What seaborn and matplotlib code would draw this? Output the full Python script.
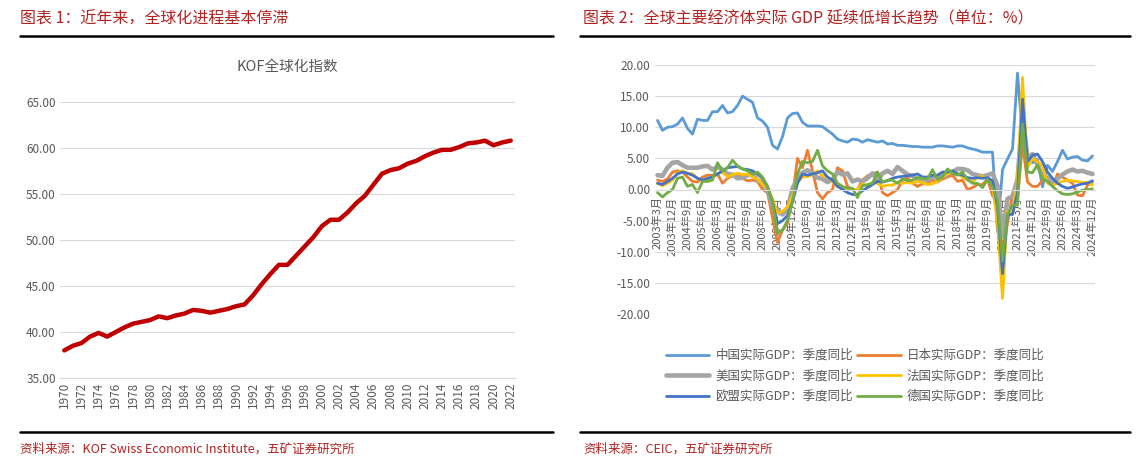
import matplotlib
matplotlib.use("Agg")
import matplotlib.pyplot as plt
import seaborn as sns
import numpy as np
import pandas as pd

sns.set_style("white")
plt.rcParams['font.family'] = ['Noto Sans CJK SC', 'DejaVu Sans']

years = list(range(1970, 2023))
kof = [38.0, 38.5, 38.8, 39.5, 39.9, 39.5, 40.0, 40.5, 40.9, 41.1,
       41.3, 41.7, 41.5, 41.8, 42.0, 42.4, 42.3, 42.1, 42.3, 42.5,
       42.8, 43.0, 44.0, 45.2, 46.3, 47.3, 47.3, 48.3, 49.3, 50.3,
       51.5, 52.2, 52.2, 53.0, 54.0, 54.8, 56.0, 57.2, 57.6, 57.8,
       58.3, 58.6, 59.1, 59.5, 59.8, 59.8, 60.1, 60.5, 60.6, 60.8,
       60.3, 60.6, 60.8]

quarters = [f"{y}年{m}月" for y in range(2003, 2025) for m in (3, 6, 9, 12)]
china = [11.1, 9.5, 10.0, 10.1, 10.5, 11.5, 9.8, 8.9, 11.3, 11.1, 11.1, 12.5,
         12.5, 13.5, 12.3, 12.5, 13.5, 15.0, 14.5, 14.0, 11.5, 11.0, 10.0, 7.1,
         6.5, 8.5, 11.5, 12.2, 12.3, 10.8, 10.2, 10.2, 10.2, 10.1, 9.5, 8.9,
         8.1, 7.8, 7.6, 8.1, 8.0, 7.6, 8.0, 7.8, 7.6, 7.8, 7.3, 7.4,
         7.1, 7.1, 7.0, 6.9, 6.9, 6.8, 6.8, 6.8, 7.0, 7.0, 6.9, 6.8,
         7.0, 7.0, 6.7, 6.5, 6.3, 6.0, 6.0, 6.0, -6.8, 3.2, 4.9, 6.5,
         18.7, 8.3, 5.2, 4.3, 4.8, 0.4, 3.9, 2.9, 4.5, 6.3, 4.9, 5.2,
         5.3, 4.7, 4.6, 5.4]
japan = [1.5, 1.3, 1.7, 2.8, 3.0, 2.8, 2.0, 1.3, 1.2, 2.0, 2.3, 2.3,
         2.5, 1.0, 1.8, 2.2, 2.5, 1.8, 1.4, 1.5, 1.3, 0.0, -0.5, -4.5,
         -8.5, -6.5, -5.5, -1.0, 5.0, 3.5, 6.3, 3.0, -0.5, -1.5, -0.5, 0.0,
         3.5, 3.0, 0.5, 0.0, 0.0, 1.5, 2.2, 2.5, 2.8, -0.5, -1.0, -0.5,
         0.0, 1.5, 1.9, 1.0, 0.5, 0.9, 1.0, 1.5, 1.2, 1.7, 2.0, 2.3,
         1.3, 1.5, 0.0, 0.3, 0.8, 0.8, 1.7, -1.0, -2.0, -10.0, -5.5, -0.8,
         -1.5, 7.3, 1.2, 0.5, 0.5, 1.5, 1.6, 0.5, 2.5, 2.0, 1.5, 1.0,
         -0.9, -1.0, 0.7, 1.2]
usa = [2.3, 2.2, 3.5, 4.3, 4.4, 3.9, 3.5, 3.5, 3.5, 3.7, 3.8, 3.2,
       3.6, 3.2, 2.5, 2.4, 1.8, 1.9, 2.3, 2.5, 1.5, 1.1, -0.2, -2.5,
       -3.3, -4.0, -3.3, 0.2, 1.6, 2.7, 3.1, 2.6, 1.9, 1.7, 1.2, 1.6,
       2.8, 2.4, 2.6, 1.3, 1.6, 1.3, 1.8, 2.6, 1.5, 2.6, 3.0, 2.5,
       3.6, 3.0, 2.4, 2.2, 1.6, 1.3, 1.5, 2.0, 2.0, 2.2, 2.4, 2.8,
       3.3, 3.3, 3.1, 2.5, 2.3, 2.1, 2.3, 2.6, 0.6, -7.5, -1.5, -1.1,
       1.6, 12.0, 5.0, 5.7, 4.0, 2.0, 1.9, 0.9, 1.7, 2.4, 2.9, 3.2,
       2.9, 3.0, 2.7, 2.5]
france = [1.0, 0.6, 1.0, 1.5, 2.7, 3.0, 2.6, 2.5, 1.8, 1.4, 1.6, 2.0,
          2.5, 2.8, 2.0, 2.4, 2.6, 2.4, 2.5, 2.0, 1.7, 0.8, 0.2, -1.5,
          -3.8, -3.5, -2.8, -1.0, 1.2, 2.0, 2.1, 2.4, 3.0, 2.2, 2.0, 1.3,
          0.5, 0.3, 0.2, 0.0, 0.0, 0.9, 0.5, 1.2, 1.0, 0.5, 0.7, 0.7,
          1.2, 1.0, 1.1, 1.0, 1.3, 1.1, 0.8, 0.9, 1.3, 2.0, 2.5, 2.8,
          2.5, 2.0, 1.5, 1.2, 2.0, 2.1, 1.7, 0.8, -5.5, -17.5, -3.5, -4.0,
          1.5, 18.0, 3.5, 5.0, 4.5, 3.8, 1.0, 0.7, 1.0, 1.3, 1.5, 1.4,
          1.3, 1.1, 1.2, 0.7]
eu = [1.0, 0.8, 1.3, 1.8, 2.5, 2.8, 2.6, 2.3, 1.8, 1.5, 1.8, 2.0,
      2.5, 3.0, 3.5, 3.6, 3.7, 3.3, 3.2, 3.0, 2.5, 1.8, 0.5, -2.0,
      -5.5, -5.0, -4.2, -2.0, 1.0, 2.5, 2.3, 2.5, 2.7, 3.0, 2.0, 1.5,
      0.5, 0.0, -0.5, -0.8, -0.8, -0.2, 0.3, 0.8, 1.3, 1.2, 1.4, 1.8,
      2.0, 2.1, 2.2, 2.3, 2.5, 2.0, 2.0, 2.3, 2.3, 2.8, 2.8, 3.0,
      2.5, 2.3, 1.9, 1.8, 1.9, 1.8, 1.9, 1.4, -2.8, -13.5, -4.0, -4.0,
      -0.5, 14.5, 4.5, 5.5, 5.7, 4.5, 2.8, 1.8, 1.0, 0.5, 0.2, 0.4,
      0.7, 0.9, 1.0, 1.4]
germany = [-0.5, -1.2, -0.5, 0.0, 1.8, 2.0, 0.5, 0.8, -0.5, 1.3, 1.3, 1.5,
           4.3, 3.0, 3.5, 4.7, 3.8, 3.3, 3.0, 2.5, 2.8, 2.0, 0.5, -2.0,
           -7.0, -6.5, -5.0, -2.0, 2.5, 4.5, 4.3, 4.5, 6.3, 3.8, 3.0, 2.5,
           1.0, 0.5, 0.2, 0.2, -1.3, 0.6, 0.8, 1.0, 2.8, 1.2, 1.5, 1.5,
           1.0, 1.7, 1.4, 1.5, 1.9, 1.8, 1.7, 3.2, 1.6, 2.0, 3.3, 2.6,
           2.3, 2.8, 1.6, 1.0, 1.0, 0.3, 1.6, 0.4, -1.8, -11.5, -4.0, -2.5,
           -2.5, 10.5, 2.8, 2.7, 4.0, 1.7, 1.3, 0.5, -0.2, -0.7, -0.8, -0.7,
           -0.4, -0.1, 0.0, 0.1]

series = [("中国实际GDP：季度同比", china, "#5B9BD5", 2.0),
          ("日本实际GDP：季度同比", japan, "#ED7D31", 2.0),
          ("美国实际GDP：季度同比", usa, "#A5A5A5", 3.3),
          ("法国实际GDP：季度同比", france, "#FFC000", 2.0),
          ("欧盟实际GDP：季度同比", eu, "#4472C4", 2.0),
          ("德国实际GDP：季度同比", germany, "#70AD47", 2.0)]

W, H = 1142, 471
fig = plt.figure(figsize=(W/100, H/100), dpi=100)
red = "#B22222"
txtc = "#595959"

fig.text(20/W, 1-19/H, "图表 1：近年来，全球化进程基本停滞", color=red, fontsize=11.5, va="center")
fig.text(583/W, 1-19/H, "图表 2：全球主要经济体实际 GDP 延续低增长趋势（单位：%）", color=red, fontsize=11.5, va="center")
fig.text(20/W, 1-449/H, "资料来源：KOF Swiss Economic Institute，五矿证券研究所", color=red, fontsize=9, va="center")
fig.text(583/W, 1-449/H, "资料来源：CEIC，五矿证券研究所", color=red, fontsize=9, va="center")
for x0, x1 in [(20, 553), (580, 1130)]:
    for yy in (36, 432):
        fig.add_artist(plt.Line2D([x0/W, x1/W], [1-yy/H]*2, color="black", lw=1.8))

# left chart
ax1 = fig.add_axes([60/W, 1-378/H, 455/W, 276/H])
df1 = pd.DataFrame({"year": years, "kof": kof})
sns.lineplot(data=df1, x="year", y="kof", ax=ax1, color="#C00000", lw=3.2)
ax1.set_ylim(35, 65)
ax1.set_yticks(np.arange(35, 66, 5))
ax1.set_yticklabels([f"{v:.2f}" for v in np.arange(35, 66, 5)], color=txtc, fontsize=8.5)
ax1.set_xlim(1969.5, 2022.5)
ax1.set_xticks(range(1970, 2023, 2))
ax1.set_xticklabels([str(y) for y in range(1970, 2023, 2)], rotation=90, color=txtc, fontsize=8.5)
ax1.grid(axis="y", color="#D9D9D9", lw=0.8)
ax1.set_xlabel(""); ax1.set_ylabel("")
for s in ["top", "right", "left"]:
    ax1.spines[s].set_visible(False)
ax1.spines["bottom"].set_color("#D9D9D9")
ax1.tick_params(length=0, pad=3)
ax1.set_title("KOF全球化指数", color=txtc, fontsize=10.5, pad=22)

# right chart
ax2 = fig.add_axes([655/W, 1-314/H, 440/W, 249/H])
ax2.spines["bottom"].set_position(("data", 0))
xs = np.arange(len(quarters))
for name, vals, col, lw in series:
    sns.lineplot(x=xs, y=vals, ax=ax2, color=col, lw=lw, label=name, legend=False)
ax2.set_ylim(-20, 20)
ax2.set_yticks(np.arange(-20, 21, 5))
ax2.set_yticklabels([f"{v:.2f}" for v in np.arange(-20, 21, 5)], color=txtc, fontsize=8.5)
ax2.set_xlim(-0.5, len(quarters) - 0.5)
ax2.set_xticks(xs[::3])
ax2.set_xticklabels(quarters[::3], rotation=90, color=txtc, fontsize=8)
ax2.grid(axis="y", color="#D9D9D9", lw=0.8)
for s in ["top", "right", "left"]:
    ax2.spines[s].set_visible(False)
ax2.spines["bottom"].set_color("#D9D9D9")
ax2.tick_params(axis="y", length=0)
ax2.tick_params(axis="x", length=3, color="#D9D9D9", pad=2)

h, l = ax2.get_legend_handles_labels()
order = [0, 2, 4, 1, 3, 5]
fig.legend([h[i] for i in order], [l[i] for i in order], ncol=2,
           loc="center", bbox_to_anchor=(855/W, 1-376/H), frameon=False,
           fontsize=9, labelcolor=txtc, handlelength=3.5, columnspacing=0.3,
           handletextpad=0.5, labelspacing=0.6)

fig.savefig("out.png", dpi=100)
